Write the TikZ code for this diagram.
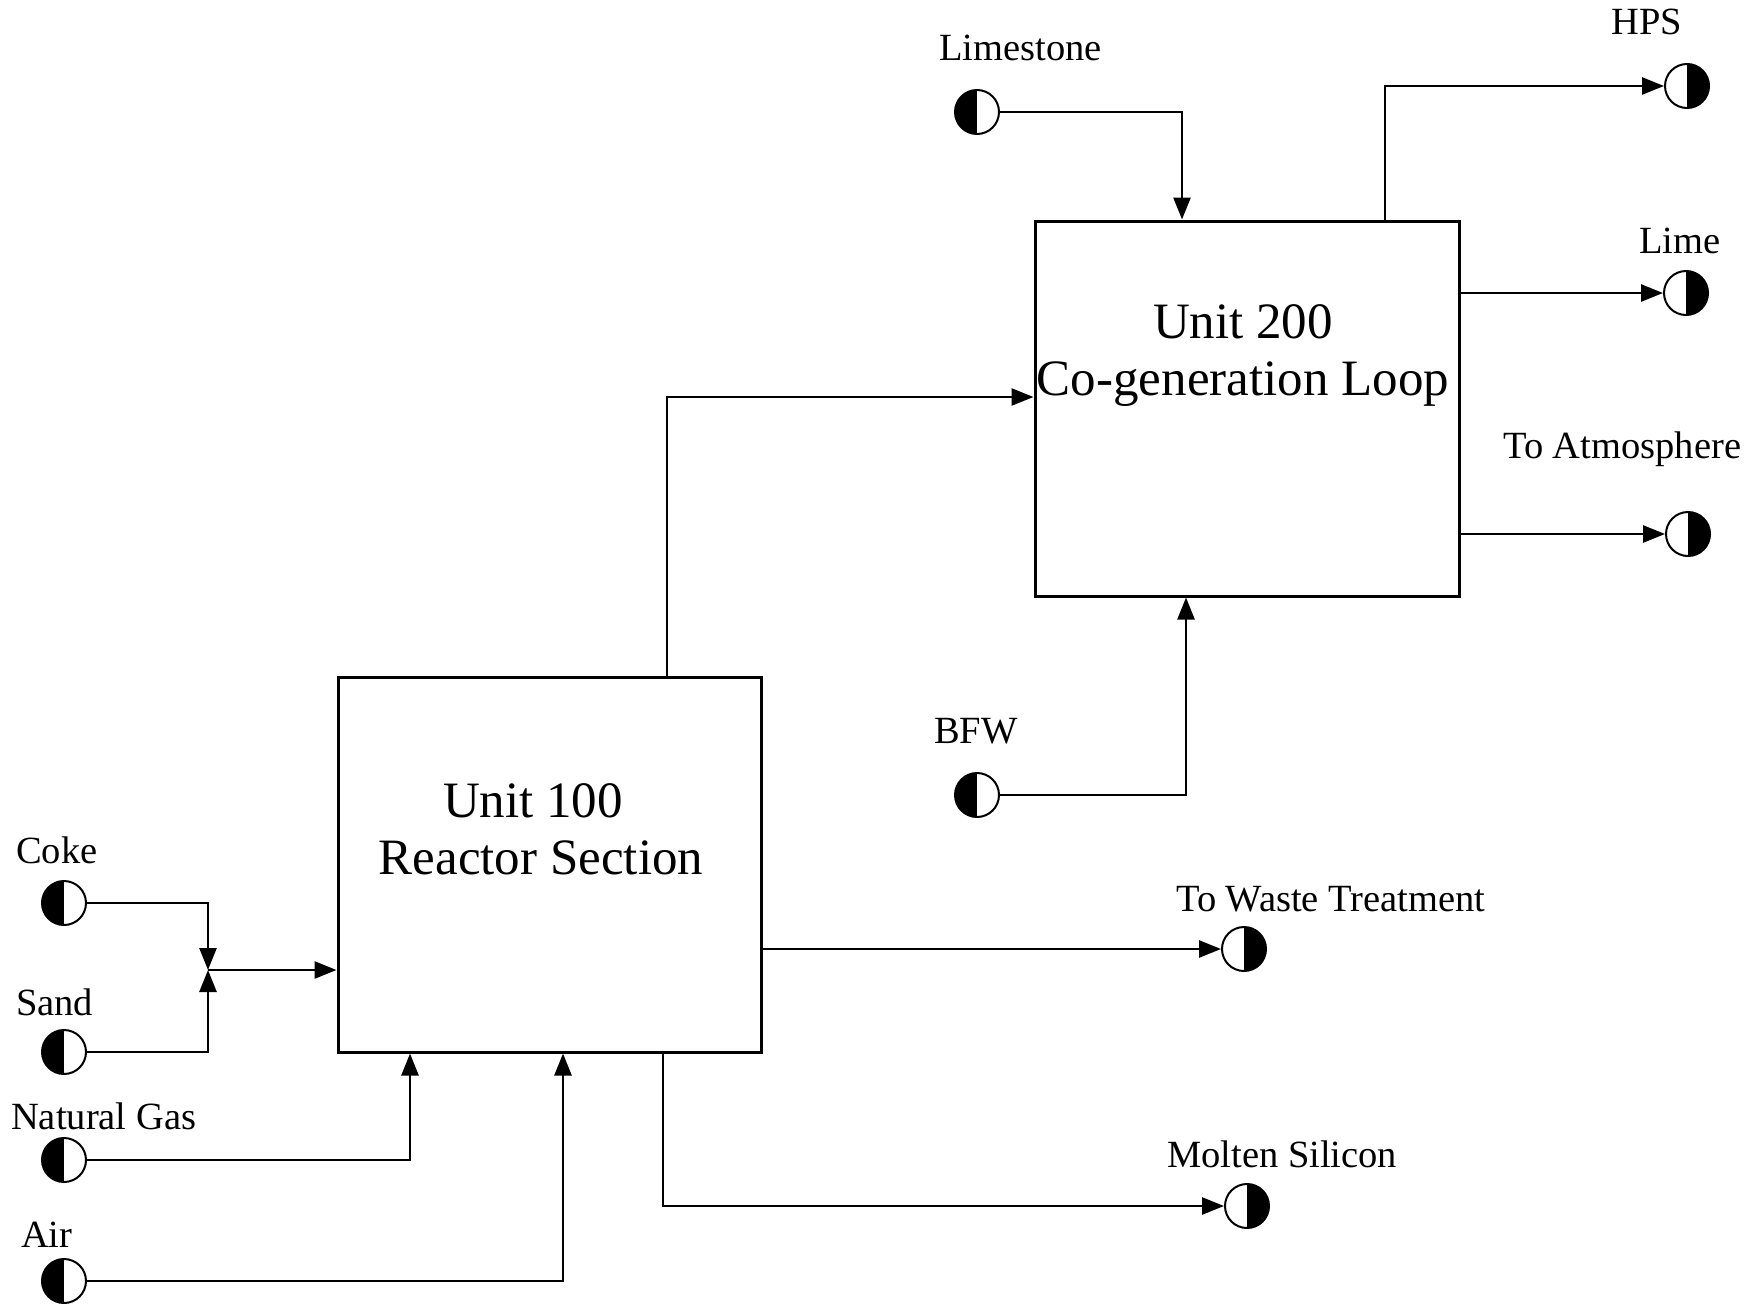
\documentclass[tikz,border=0pt]{standalone}
\usepackage{fontspec}
\setmainfont{Liberation Serif}
\usetikzlibrary{arrows.meta}
\begin{document}
\begin{tikzpicture}[x=1pt,y=-1pt,
  flow/.style={line width=2.6pt,-{Triangle[length=22pt,width=17pt]}},
  plain/.style={line width=2.6pt},
  unitbox/.style={draw,line width=3pt,inner sep=0pt},
  feed/.style={circle,draw,line width=2pt,minimum size=44pt,inner sep=0pt,
    path picture={\fill[black] (path picture bounding box.north) rectangle (path picture bounding box.south west);}},
  prod/.style={circle,draw,line width=2pt,minimum size=44pt,inner sep=0pt,
    path picture={\fill[black] (path picture bounding box.north) rectangle (path picture bounding box.south east);}},
  lbl/.style={font=\fontsize{38.5}{46}\selectfont,inner sep=0pt,anchor=base west},
  boxtxt/.style={font=\fontsize{51}{60}\selectfont,inner sep=0pt,anchor=base}
]
\useasboundingbox (0,0) rectangle (1753,1306);
% units
\node[unitbox,minimum width=424pt,minimum height=375pt] (u2) at (1247,408.5) {};
\node[unitbox,minimum width=423pt,minimum height=375pt] (u1) at (549.5,864.5) {};
\node[boxtxt] (u2a) at (1243,338) {Unit 200};
\node[boxtxt] (u2b) at (1243,395) {Co-generation Loop};
\node[boxtxt] (u1a) at (533,817) {Unit 100};
\node[boxtxt] (u1b) at (541,874) {Reactor Section};
% feeds
\node[feed] (coke) at (64,903) {};
\node[feed] (sand) at (64,1052) {};
\node[feed] (ng) at (64,1160) {};
\node[feed] (air) at (64,1281) {};
\node[feed] (ls) at (977,112) {};
\node[feed] (bfw) at (977,795) {};
% products
\node[prod] (hps) at (1687,86) {};
\node[prod] (lime) at (1686,293) {};
\node[prod] (atm) at (1688,534) {};
\node[prod] (waste) at (1244,949) {};
\node[prod] (molten) at (1247,1206) {};
% labels
\node[lbl] (lcoke) at (16,863) {Coke};
\node[lbl] (lsand) at (16,1015) {Sand};
\node[lbl] (lng) at (11,1129) {Natural Gas};
\node[lbl] (lair) at (21,1247) {Air};
\node[lbl] (lls) at (939,61) {Limestone};
\node[lbl] (lbfw) at (934,743) {BFW};
\node[lbl] (lhps) at (1611,35) {HPS};
\node[lbl] (llime) at (1639,253) {Lime};
\node[lbl] (latm) at (1503,458) {To Atmosphere};
\node[lbl] (lwaste) at (1176,911) {To Waste Treatment};
\node[lbl] (lmolten) at (1167,1167) {Molten Silicon};
% helper coordinates
\coordinate (jn) at (208,970);
\coordinate (ngx) at (410,0);
\coordinate (airx) at (563,0);
\coordinate (lk) at (667,397);
\coordinate (mx) at (663,0);
\coordinate (lsx) at (1182,0);
\coordinate (bfwx) at (1186,0);
\coordinate (hpsx) at (1385,0);
% connectors
\draw[flow] (coke.east) -| (jn);
\draw[flow] (sand.east) -| (jn);
\draw[flow] (jn) -- (u1.west |- jn);
\draw[flow] (ng.east) -| (ngx |- u1.south);
\draw[flow] (air.east) -| (airx |- u1.south);
\draw[flow] (lk |- u1.north) |- (u2.west |- lk);
\draw[flow] (u1.east |- waste) -- (waste.west);
\draw[flow] (mx |- u1.south) |- (molten.west);
\draw[flow] (ls.east) -| (lsx |- u2.north);
\draw[flow] (bfw.east) -| (bfwx |- u2.south);
\draw[flow] (hpsx |- u2.north) |- (hps.west);
\draw[flow] (u2.east |- lime) -- (lime.west);
\draw[flow] (u2.east |- atm) -- (atm.west);
\end{tikzpicture}
\end{document}
